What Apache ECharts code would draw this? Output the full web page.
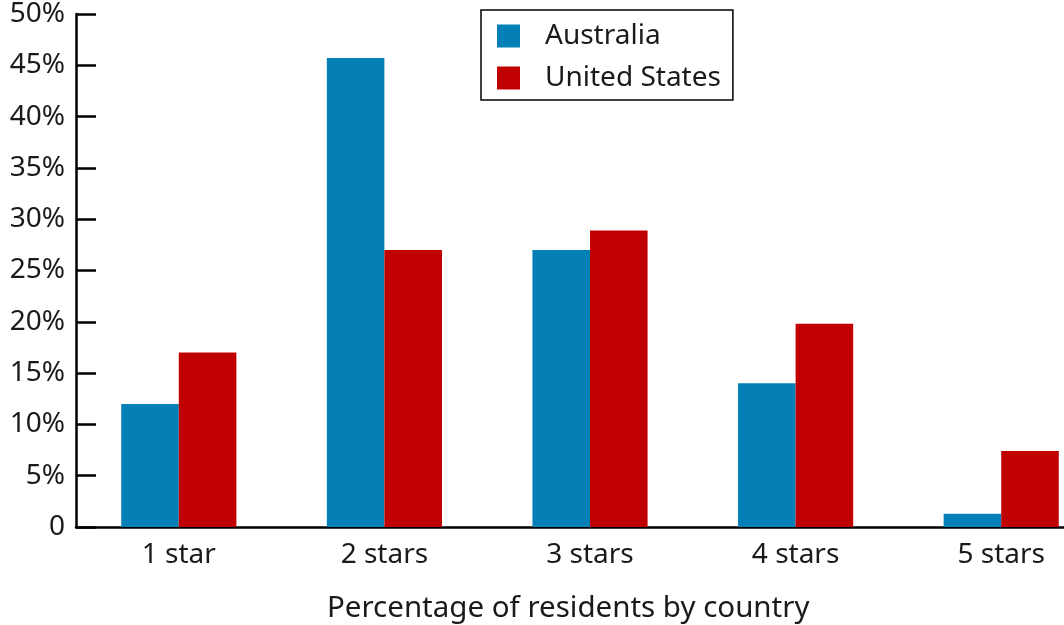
<!DOCTYPE html>
<html><head><meta charset="utf-8">
<script src="https://cdn.jsdelivr.net/npm/echarts@6/dist/echarts.min.js"></script>
<style>html,body{margin:0;padding:0;background:#fff;overflow:hidden;width:1064px;height:625px}#c{width:1104px;height:625px}</style>
</head><body><div id="c"></div>
<script>
const categories = ['1 star', '2 stars', '3 stars', '4 stars', '5 stars'];
const australia = [12.0, 45.7, 27.0, 14.0, 1.3];
const unitedStates = [17.0, 27.0, 28.9, 19.8, 7.4];
const yTicks = [0, 5, 10, 15, 20, 25, 30, 35, 40, 45, 50];
const xTitle = 'Percentage of residents by country';

const font = '"Noto Sans", sans-serif';
const chart = echarts.init(document.getElementById('c'));
chart.setOption({
  animation: false,
  backgroundColor: '#fff',
  title: {
    text: xTitle, left: 322, top: 589,
    textStyle: { fontFamily: font, fontSize: 29.5, fontWeight: 'normal', color: '#1a1a1a' }
  },
  legend: {
    orient: 'vertical', left: 481, top: 10,
    borderColor: '#000', borderWidth: 1.5,
    padding: [12, 12, 8, 16],
    icon: 'rect',
    itemWidth: 23, itemHeight: 23, itemGap: 14,
    textStyle: { fontFamily: font, fontSize: 28, color: '#1a1a1a', padding: [0, 0, 0, 20] },
    data: ['Australia', 'United States']
  },
  grid: { left: 76, top: 14, bottom: 98, right: 0, containLabel: false },
  xAxis: {
    type: 'category', data: categories,
    axisLine: { lineStyle: { color: '#000', width: 2.5 } },
    axisTick: { show: false },
    axisLabel: { fontFamily: font, fontSize: 28, color: '#1a1a1a', margin: 14 }
  },
  yAxis: {
    type: 'value', min: 0, max: 50, interval: 5,
    splitLine: { show: false },
    axisLine: { show: true, lineStyle: { color: '#000', width: 2.5 } },
    axisTick: { show: true, inside: true, length: 20, lineStyle: { color: '#000', width: 2.5 } },
    axisLabel: {
      fontFamily: font, fontSize: 28, color: '#1a1a1a', margin: 11,
      formatter: v => yTicks.includes(v) ? (v === 0 ? '0' : v + '%') : ''
    }
  },
  series: [
    { name: 'Australia', type: 'bar', data: australia, barGap: '0%', barCategoryGap: '44%',
      itemStyle: { color: '#0580b6' } },
    { name: 'United States', type: 'bar', data: unitedStates, barGap: '0%', barCategoryGap: '44%',
      itemStyle: { color: '#c00000' } }
  ]
});
</script></body></html>
